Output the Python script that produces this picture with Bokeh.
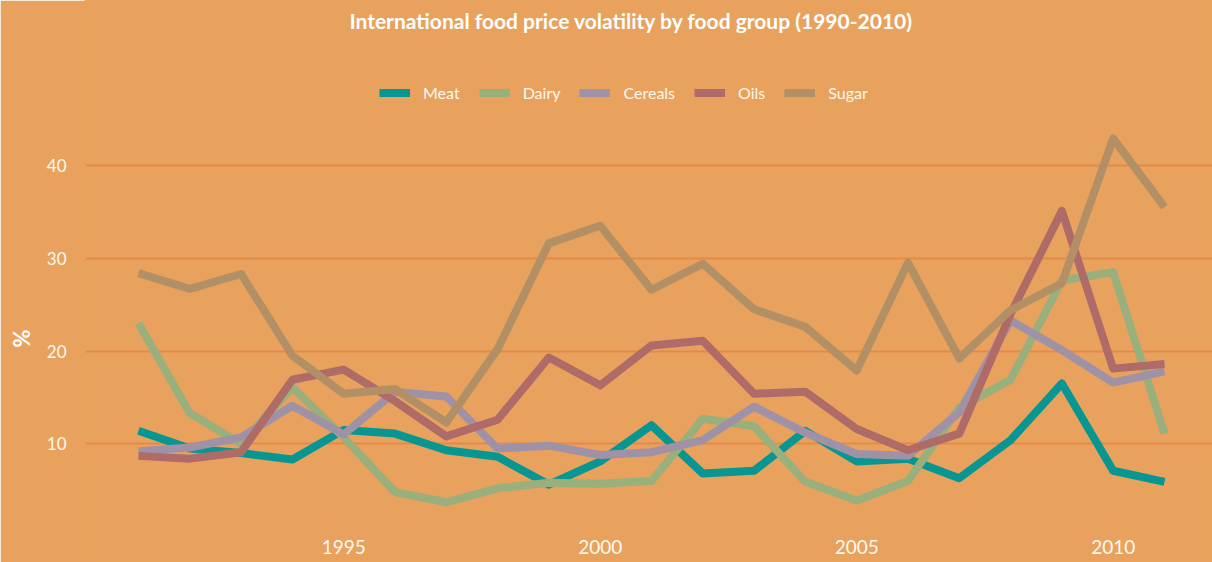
from bokeh.plotting import figure
from bokeh.models import Range1d, FixedTicker, Label, Legend, LegendItem, Title
from bokeh.embed import file_html
from bokeh.resources import INLINE

years = list(range(1991, 2012))
meat = [11.4, 9.5, 9.0, 8.3, 11.5, 11.1, 9.3, 8.6, 5.6, 8.1, 12.0, 6.8, 7.1, 11.4, 8.1, 8.4, 6.3, 10.4, 16.5, 7.1, 5.9]
dairy = [23.0, 13.3, 10.0, 16.1, 10.7, 4.8, 3.7, 5.2, 5.8, 5.7, 6.0, 12.7, 11.9, 5.9, 3.9, 6.0, 13.9, 16.9, 27.6, 28.5, 11.1]
cereals = [9.2, 9.6, 10.7, 14.1, 11.0, 15.6, 15.1, 9.5, 9.8, 8.8, 9.1, 10.4, 14.0, 11.2, 8.9, 8.7, 13.4, 23.3, 20.1, 16.6, 17.8]
oils = [8.7, 8.4, 9.1, 16.9, 18.0, 14.6, 10.8, 12.6, 19.3, 16.3, 20.6, 21.1, 15.4, 15.6, 11.6, 9.3, 11.1, 24.0, 35.1, 18.1, 18.6]
sugar = [28.4, 26.7, 28.3, 19.5, 15.4, 15.9, 12.3, 20.2, 31.6, 33.5, 26.6, 29.4, 24.5, 22.6, 17.9, 29.5, 19.2, 24.4, 27.3, 42.9, 35.5]

series_names = ["Meat", "Dairy", "Cereals", "Oils", "Sugar"]
series_values = [meat, dairy, cereals, oils, sugar]
series_colors = ["#079692", "#99AF7C", "#A092A6", "#AF6B68", "#B38F66"]

x_ticks = [1995, 2000, 2005, 2010]
y_ticks = [10, 20, 30, 40]
title_text = "International food price volatility by food group (1990-2010)"
y_label = "%"

BG = "#E8A25D"
FONT = "Lato"
TXT = "#FFF8F0"

p = figure(width=1212, height=562, output_backend="svg", toolbar_location=None,
           x_range=Range1d(1989.967, 2011.936), y_range=Range1d(-2.79, 57.77),
           min_border_left=85, min_border_right=0, min_border_top=0, min_border_bottom=0,
           background_fill_color=BG, border_fill_color=BG,
           outline_line_color=BG, outline_line_width=2)

items = []
for name, vals, col in zip(series_names, series_values, series_colors):
    r = p.line(years, vals, line_color=col, line_width=8, line_join="round", line_cap="butt")
    items.append(LegendItem(label=name, renderers=[r]))

legend = Legend(items=items, orientation="horizontal", location=(294, 460),
                glyph_width=31, glyph_height=9, label_standoff=13, spacing=19,
                padding=0, margin=0, background_fill_alpha=0, border_line_color=None,
                label_text_font=FONT, label_text_font_size="16px", label_text_color=TXT,
                label_height=18)
p.add_layout(legend)

# axes
p.xgrid.visible = False
p.ygrid.ticker = FixedTicker(ticks=y_ticks)
p.ygrid.grid_line_color = "#E38A48"
p.ygrid.grid_line_width = 2

p.xaxis.ticker = FixedTicker(ticks=x_ticks)
p.xaxis.fixed_location = 0.77
p.xaxis.axis_line_color = None
p.xaxis.major_tick_line_color = None
p.xaxis.minor_tick_line_color = None
p.xaxis.major_label_standoff = 5
p.xaxis.major_label_text_font = FONT
p.xaxis.major_label_text_font_size = "19px"
p.xaxis.major_label_text_color = TXT

p.yaxis.ticker = FixedTicker(ticks=y_ticks)
p.yaxis.axis_line_color = None
p.yaxis.major_tick_line_color = None
p.yaxis.minor_tick_line_color = None
p.yaxis.major_label_standoff = 13
p.yaxis.major_label_text_font = FONT
p.yaxis.major_label_text_font_size = "17px"
p.yaxis.major_label_text_color = TXT

p.add_layout(Title(text=y_label, align="left", offset=215, vertical_align="top",
                   standoff=14, text_font=FONT, text_font_size="22px",
                   text_font_style="bold", text_color="#FFFFFF"), "left")

p.add_layout(Label(x=546, y=542, x_units="screen", y_units="screen", text=title_text,
                   text_align="center", text_baseline="alphabetic",
                   text_font=FONT, text_font_size="21px", text_font_style="bold",
                   text_color="#FFFFFF"))

open("out.html", "w").write(file_html(p, INLINE))
